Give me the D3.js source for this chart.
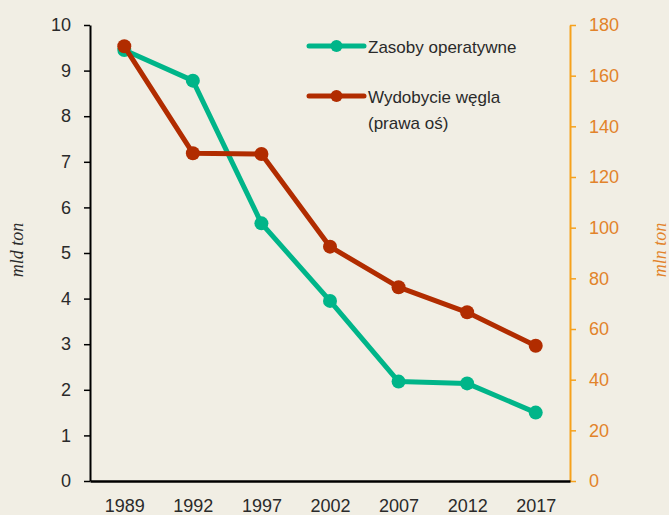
<!DOCTYPE html>
<html>
<head>
<meta charset="utf-8">
<script src="https://cdn.jsdelivr.net/npm/d3@7/dist/d3.min.js"></script>
<style>
  html, body { margin: 0; padding: 0; background: #f1eee4; }
  svg { display: block; }
  .sans { font-family: "Liberation Sans", Arial, Helvetica, sans-serif; }
  .serif { font-family: "Liberation Serif", "Times New Roman", serif; font-style: italic; }
</style>
</head>
<body>
<svg id="chart" width="669" height="515"></svg>
<script>
// Years on the horizontal axis
const years = ["1989", "1992", "1997", "2002", "2007", "2012", "2017"];
// Operational reserves, billion tonnes (left axis)
const reserves = [9.45, 8.78, 5.65, 3.95, 2.18, 2.14, 1.50];
// Coal output, million tonnes (right axis)
const output = [171.6, 129.4, 129.1, 92.5, 76.5, 66.6, 53.4];
// Axis tick values
const leftTicks = [0, 1, 2, 3, 4, 5, 6, 7, 8, 9, 10];
const rightTicks = [0, 20, 40, 60, 80, 100, 120, 140, 160, 180];
// Legend entries
const legendLabels = [["Zasoby operatywne"], ["Wydobycie węgla", "(prawa oś)"]];

const green = "#00b589";
const red = "#b12c00";
const orangeLine = "#f6a11c";
const orangeText = "#e2832a";
const ink = "#2a2a2a";

const svg = d3.select("#chart");
const plotLeft = 90, plotRight = 570, plotTop = 25, plotBottom = 481;

const x = d3.scalePoint().domain(years).range([plotLeft, plotRight]).padding(0.5);
const yL = d3.scaleLinear().domain([0, 10]).range([plotBottom, plotTop]);
const yR = d3.scaleLinear().domain([0, 180]).range([plotBottom, plotTop]);

function styleTicks(g, color) {
  g.selectAll(".tick text").attr("class", "sans")
    .attr("font-size", 18).attr("fill", color);
}

// Left axis
const gL = svg.append("g").attr("transform", `translate(${plotLeft},0)`)
  .call(d3.axisLeft(yL).tickValues(leftTicks).tickSize(6).tickSizeOuter(0).tickPadding(13));
gL.select(".domain").attr("stroke", "#000").attr("stroke-width", 2);
gL.selectAll(".tick line").attr("stroke", "#000").attr("stroke-width", 1.5);
styleTicks(gL, ink);

// Right axis
const gR = svg.append("g").attr("transform", `translate(${plotRight},0)`)
  .call(d3.axisRight(yR).tickValues(rightTicks).tickSize(6).tickSizeOuter(0).tickPadding(13));
gR.select(".domain").attr("stroke", orangeLine).attr("stroke-width", 2);
gR.selectAll(".tick line").attr("stroke", orangeLine).attr("stroke-width", 1.5);
styleTicks(gR, orangeText);

// Bottom axis
const gB = svg.append("g").attr("transform", `translate(0,${plotBottom})`)
  .call(d3.axisBottom(x).tickSize(0).tickSizeOuter(0).tickPadding(18));
gB.select(".domain").attr("stroke", "#000").attr("stroke-width", 2.5);
styleTicks(gB, ink);

// Axis titles
svg.append("text").attr("class", "serif")
  .attr("transform", `translate(23,250) rotate(-90)`)
  .attr("text-anchor", "middle")
  .attr("font-size", 18).attr("fill", ink)
  .text("mld ton");
svg.append("text").attr("class", "serif")
  .attr("transform", `translate(666,250) rotate(-90)`)
  .attr("text-anchor", "middle")
  .attr("font-size", 18).attr("fill", orangeText)
  .text("mln ton");

// Series
function drawSeries(values, yScale, color) {
  const pts = years.map((yr, i) => [x(yr), yScale(values[i])]);
  svg.append("path")
    .attr("d", d3.line()(pts))
    .attr("fill", "none").attr("stroke", color)
    .attr("stroke-width", 5).attr("stroke-linejoin", "round");
  svg.append("g").selectAll("circle").data(pts).join("circle")
    .attr("cx", d => d[0]).attr("cy", d => d[1]).attr("r", 7)
    .attr("fill", color);
}
drawSeries(reserves, yL, green);
drawSeries(output, yR, red);

// Legend
const legend = [
  { color: green, y: 46, lines: legendLabels[0] },
  { color: red, y: 96, lines: legendLabels[1] }
];
legend.forEach(item => {
  const g = svg.append("g");
  g.append("line").attr("x1", 309).attr("x2", 364).attr("y1", item.y).attr("y2", item.y)
    .attr("stroke", item.color).attr("stroke-width", 5).attr("stroke-linecap", "round");
  g.append("circle").attr("cx", 336.5).attr("cy", item.y).attr("r", 6).attr("fill", item.color);
  item.lines.forEach((t, i) => {
    g.append("text").attr("class", "sans").attr("x", 368).attr("y", item.y + 7 + i * 26)
      .attr("font-size", 17).attr("fill", ink).text(t);
  });
});
</script>
</body>
</html>
